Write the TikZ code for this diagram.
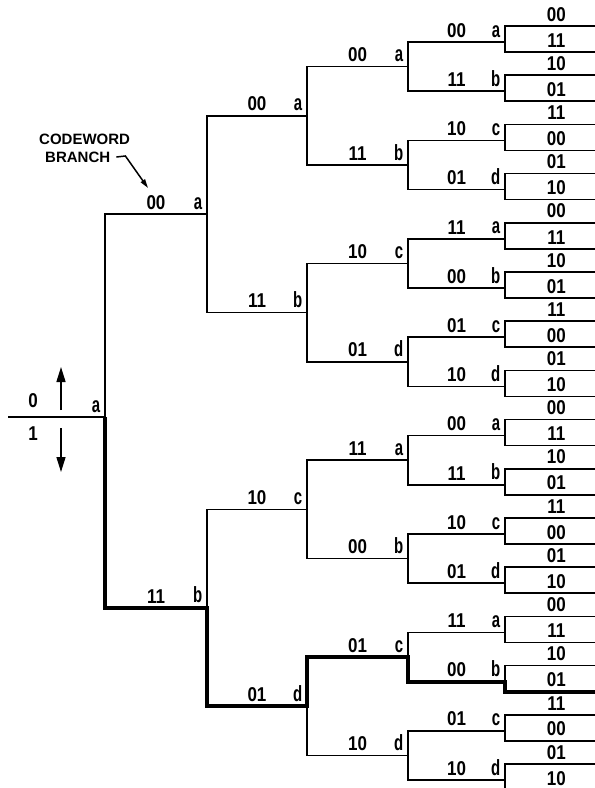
\documentclass[tikz,border=0pt]{standalone}
\usepackage{fontspec}
\setmainfont{Liberation Sans}
\newfontfamily\bitsfont[FakeStretch=0.85]{Liberation Sans}
\newfontfamily\statefont[FakeStretch=0.68]{Liberation Sans}
\usetikzlibrary{arrows.meta}

% branch output and state reached, by index mod 8
\newcommand\cwout[1]{\ifcase#1 00\or 11\or 10\or 01\or 11\or 00\or 01\or 10\fi}
\newcommand\cwstate[1]{\ifcase#1 a\or b\or c\or d\or a\or b\or c\or d\fi}

\begin{document}
\begin{tikzpicture}[x=1pt,y=-1pt,>=Stealth,
    branch/.style={line width=1.5pt},
    path taken/.style={line width=4.2pt},
    bits/.style={font=\bitsfont\bfseries\fontsize{20}{20}\selectfont,inner sep=1pt,anchor=south,yshift=3pt},
    statelbl/.style={font=\statefont\bfseries\fontsize{22}{22}\selectfont,inner sep=1pt,anchor=south east,at end,xshift=-3pt,yshift=3pt},
    caption/.style={font=\bfseries\fontsize{15}{15}\selectfont,inner sep=0pt}]
  \useasboundingbox (0,0) rectangle (595,788);
  \clip (0,0) rectangle (595,788);

  % root
  \coordinate (in) at (8,417);
  \coordinate (n0-0) at (105,417);
  \draw[branch] (in) -- (n0-0) node[statelbl] (s0-0) {a};
  \node[bits,anchor=center,yshift=0pt] (zero) at (33,404) {0};
  \node[bits,anchor=center,yshift=0pt] (one) at (33,437) {1};
  \coordinate (up0) at (61,410);   \coordinate (up1) at (61,367);
  \coordinate (dn0) at (61,428);   \coordinate (dn1) at (61,472);
  \draw[branch,-{Triangle[length=15pt,width=9pt]}] (up0) -- (up1);
  \draw[branch,-{Triangle[length=15pt,width=9pt]}] (dn0) -- (dn1);

  % levels 1 to 4
  \foreach \L/\X/\S in {1/207/8,2/307/4,3/408/2,4/505/1}{
    \pgfmathtruncatemacro\P{\L-1}
    \pgfmathtruncatemacro\N{2^\L-1}
    \foreach \i in {0,...,\N}{
      \pgfmathtruncatemacro\p{floor(\i/2)}
      \pgfmathtruncatemacro\m{mod(\i,8)}
      \coordinate (n\L-\i) at (\X,{42+49.2*(\S*\i+(\S-1)/2)});
      \draw[branch] (n\P-\p) |- (n\L-\i)
        node[bits,pos=.75] (b\L-\i) {\cwout\m}
        node[statelbl] (s\L-\i) {\cwstate\m};
    }
  }

  % last level, open to the right
  \foreach \i in {0,...,31}{
    \pgfmathtruncatemacro\p{floor(\i/2)}
    \pgfmathtruncatemacro\m{mod(\i,8)}
    \coordinate (n5-\i) at (600,{26+49.2*floor(\i/2)+26*mod(\i,2)});
    \draw[branch] (n4-\p) |- (n5-\i) node[bits,pos=.77] (b5-\i) {\cwout\m};
  }

  % path for input 1 1 0 1 1
  \draw[path taken] (n0-0) |- (n1-1) |- (n2-3) |- (n3-6) |- (n4-13) |- (n5-27);

  % callout
  \node[caption,anchor=west] (cwtop) at (39,139) {CODEWORD};
  \node[caption,anchor=west] (cwbot) at (45,157) {BRANCH};
  \coordinate (tip) at (148,188);
  \draw[branch,-{Triangle[length=9pt,width=5pt]}] ([xshift=6pt]cwbot.east) -- ++(9,-1) -- (tip);
\end{tikzpicture}
\end{document}
